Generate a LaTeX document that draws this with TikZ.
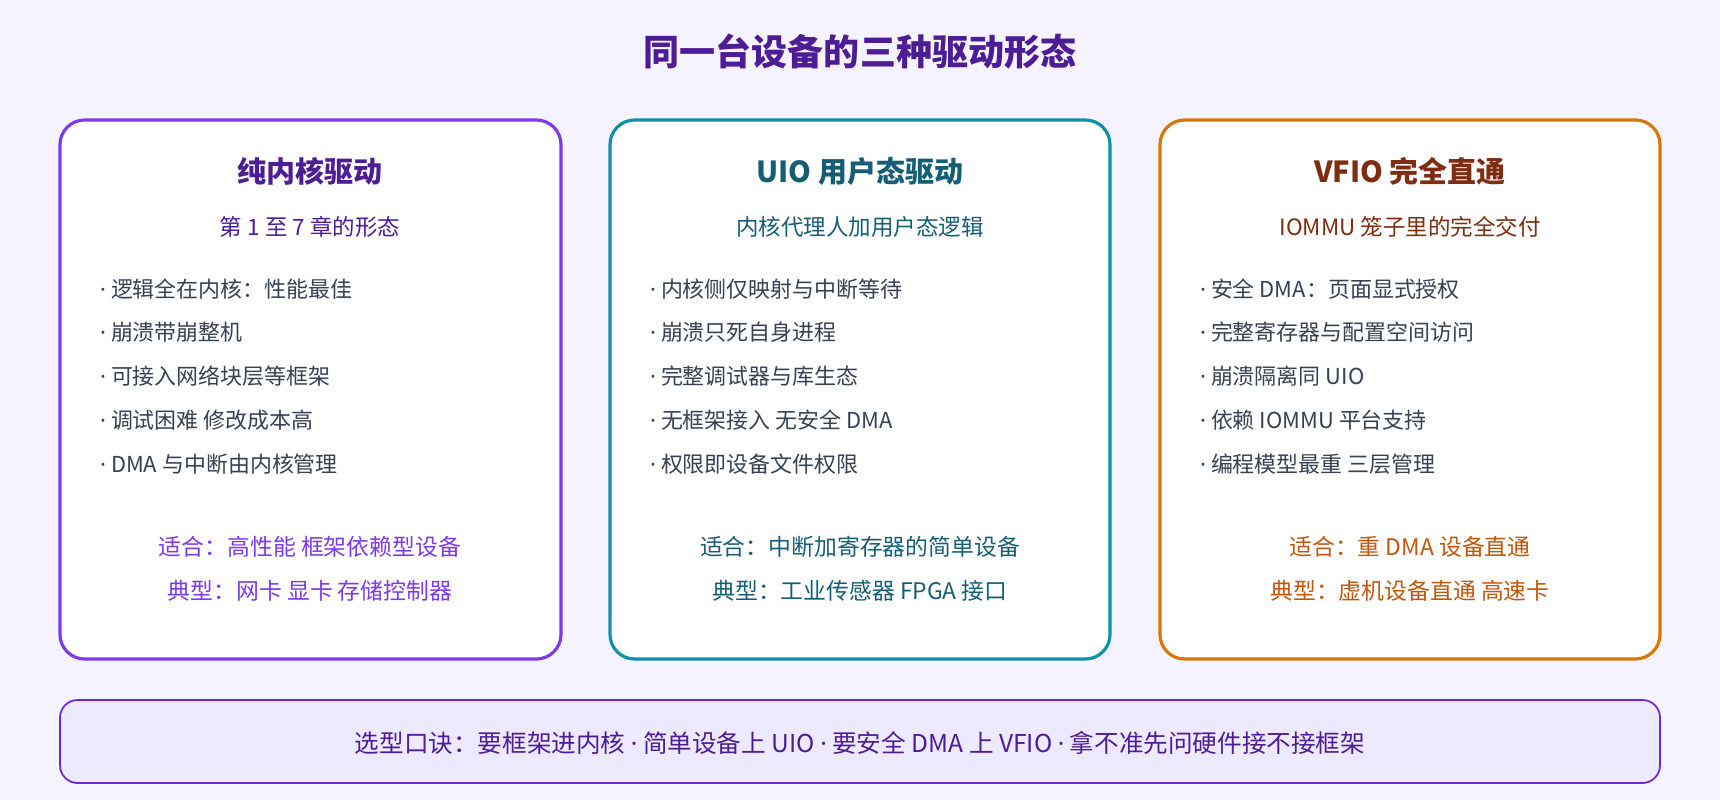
\documentclass[tikz,border=0pt]{standalone}
\usepackage{fontspec}
\setmainfont{Noto Sans CJK SC}
\newfontfamily\latinfont{Noto Sans}
\newcommand{\sdot}{{\latinfont ·}}
\usetikzlibrary{positioning}
\definecolor{bgcol}{HTML}{F5F3FF}
\definecolor{kborder}{HTML}{7C3AED}
\definecolor{ktitle}{HTML}{4C1D95}
\definecolor{uborder}{HTML}{0E8FAA}
\definecolor{utitle}{HTML}{155E75}
\definecolor{vborder}{HTML}{D97706}
\definecolor{vtitle}{HTML}{7C2D12}
\definecolor{vfit}{HTML}{C2570C}
\definecolor{bodytext}{HTML}{374151}
\definecolor{notefill}{HTML}{EDE9FE}
\definecolor{noteborder}{HTML}{6D28D9}
\begin{document}
\begin{tikzpicture}[x=0.02cm, y=-0.02cm]
    \tikzset{
        panel/.style={line width=1.8pt, rounded corners=14pt, fill=white},
        ptitle/.style={font=\fontsize{16.5}{19}\selectfont\bfseries},
        psub/.style={font=\fontsize{12.8}{15}\selectfont},
        item/.style={anchor=west, text=bodytext, font=\fontsize{12.5}{15}\selectfont},
        fit line/.style={font=\fontsize{13}{15}\selectfont}
    }
    \fill[bgcol] (0,0) rectangle (1720,800);
    \node[font=\fontsize{20.5}{24}\selectfont\bfseries, text=ktitle] (title) at (860,52) {同一台设备的三种驱动形态};

    % Kernel
    \draw[panel, draw=kborder] (60,120) rectangle (561,659);
    \node[ptitle, text=ktitle] (ktitle) at (310,171) {纯内核驱动};
    \node[psub, text=ktitle] (ksub) at (310,227) {第 1 至 7 章的形态};
    \node[item] (k1) at (94,289) {\sdot{} 逻辑全在内核：性能最佳};
    \node[item] (k2) at (94,332) {\sdot{} 崩溃带崩整机};
    \node[item] (k3) at (94,376) {\sdot{} 可接入网络块层等框架};
    \node[item] (k4) at (94,420) {\sdot{} 调试困难 修改成本高};
    \node[item] (k5) at (94,464) {\sdot{} DMA 与中断由内核管理};
    \node[fit line, text=kborder] (kfit) at (310,547) {适合：高性能 框架依赖型设备};
    \node[fit line, text=kborder] (kuse) at (310,591) {典型：网卡 显卡 存储控制器};

    % UIO
    \draw[panel, draw=uborder] (610,120) rectangle (1110,659);
    \node[ptitle, text=utitle] (utitle) at (860,171) {UIO 用户态驱动};
    \node[psub, text=utitle] (usub) at (860,227) {内核代理人加用户态逻辑};
    \node[item] (u1) at (644,289) {\sdot{} 内核侧仅映射与中断等待};
    \node[item] (u2) at (644,332) {\sdot{} 崩溃只死自身进程};
    \node[item] (u3) at (644,376) {\sdot{} 完整调试器与库生态};
    \node[item] (u4) at (644,420) {\sdot{} 无框架接入 无安全 DMA};
    \node[item] (u5) at (644,464) {\sdot{} 权限即设备文件权限};
    \node[fit line, text=utitle] (ufit) at (860,547) {适合：中断加寄存器的简单设备};
    \node[fit line, text=utitle] (uuse) at (860,591) {典型：工业传感器 FPGA 接口};

    % VFIO
    \draw[panel, draw=vborder] (1160,120) rectangle (1660,659);
    \node[ptitle, text=vtitle] (vtitle) at (1410,171) {VFIO 完全直通};
    \node[psub, text=vtitle] (vsub) at (1410,227) {IOMMU 笼子里的完全交付};
    \node[item] (v1) at (1194,289) {\sdot{} 安全 DMA：页面显式授权};
    \node[item] (v2) at (1194,332) {\sdot{} 完整寄存器与配置空间访问};
    \node[item] (v3) at (1194,376) {\sdot{} 崩溃隔离同 UIO};
    \node[item] (v4) at (1194,420) {\sdot{} 依赖 IOMMU 平台支持};
    \node[item] (v5) at (1194,464) {\sdot{} 编程模型最重 三层管理};
    \node[fit line, text=vfit] (vfit) at (1410,547) {适合：重 DMA 设备直通};
    \node[fit line, text=vfit] (vuse) at (1410,591) {典型：虚机设备直通 高速卡};

    % Rule of thumb
    \draw[fill=notefill, draw=noteborder, line width=1pt, rounded corners=10pt] (60,700) rectangle (1660,783);
    \node[font=\fontsize{14}{17}\selectfont, text=ktitle] (rule) at (860,743) {选型口诀：要框架进内核 \sdot{} 简单设备上 UIO \sdot{} 要安全 DMA 上 VFIO \sdot{} 拿不准先问硬件接不接框架};
\end{tikzpicture}
\end{document}
